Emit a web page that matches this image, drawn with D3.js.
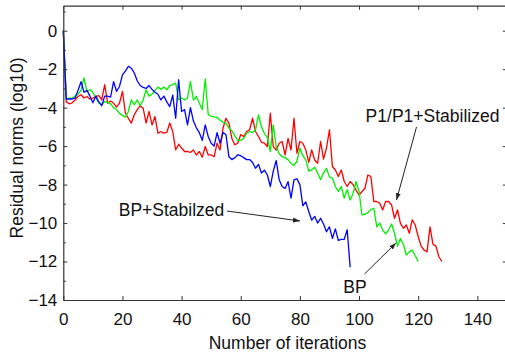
<!DOCTYPE html>
<html><head><meta charset="utf-8">
<script src="https://cdn.jsdelivr.net/npm/d3@7"></script>
<style>
html,body{margin:0;padding:0;background:#fff;}
svg{display:block;font-family:Arial,"Liberation Sans",sans-serif;}
</style></head>
<body>
<svg id="c" width="505" height="358"></svg>
<script>
const xTicks = [0,20,40,60,80,100,120,140];
const yTicks = [0,-2,-4,-6,-8,-10,-12,-14];
const yMinorTicks = [1,-1,-3,-5,-7,-9,-11,-13];

const bpStab = [0,-3.55,-3.55,-3.55,-3.5,-3.1,-2.65,-3.2,-3.1,-3.4,-3.75,-3.4,-3.7,-3.9,-3.4,-3.4,-3.45,-2.65,-3.15,-2.9,
-2.3,-2.1,-1.85,-1.95,-2.2,-2.6,-2.85,-2.95,-3.0,-2.85,-3.05,-3.2,-3.3,-3.6,-3.4,-3.7,-3.95,-3.35,-4.55,-2.55,
-4.2,-4.1,-4.9,-4.0,-4.7,-5.05,-5.3,-5.7,-4.9,-5.5,-5.85,-6.0,-5.3,-5.85,-5.3,-5.4,-6.55,-6.7,-6.6,-6.45,
-6.5,-6.6,-6.7,-6.7,-6.85,-7.15,-6.95,-7.4,-7.25,-7.5,-8.1,-7.3,-6.75,-7.75,-8.1,-8.2,-7.85,-8.7,-7.75,-7.7,
-8.0,-9.1,-8.9,-9.4,-9.85,-9.65,-10.0,-9.75,-10.05,-10.45,-10.2,-10.8,-10.3,-10.9,-10.85,-10.85,-10.35,-12.3];

const bp = [0,-3.55,-3.5,-3.5,-3.4,-3.3,-3.1,-2.46,-3.15,-3.07,-3.2,-3.5,-3.75,-3.85,-3.68,-3.72,-3.8,-4.0,-4.1,-4.3,
-4.4,-4.5,-4.2,-3.6,-3.85,-3.6,-3.9,-3.6,-3.07,-3.4,-3.3,-3.1,-2.93,-3.05,-2.93,-3.07,-2.86,-2.8,-2.72,-3.6,
-3.5,-3.6,-3.5,-2.64,-3.6,-3.42,-3.77,-4.1,-2.5,-4.35,-4.45,-4.48,-4.5,-4.65,-4.75,-4.8,-5.05,-5.2,-5.45,-5.7,
-5.7,-5.6,-5.33,-5.24,-5.3,-5.15,-4.37,-4.98,-5.35,-5.55,-6.28,-4.9,-6.02,-6.4,-6.55,-6.6,-6.7,-6.9,-7.0,-6.8,
-6.1,-6.5,-6.7,-7.3,-7.24,-7.1,-7.4,-7.75,-7.4,-7.15,-7.6,-7.67,-8.1,-8.36,-8.1,-8.7,-8.27,-8.8,-8.45,-7.84,
-8.36,-9.58,-9.55,-9.45,-9.3,-9.23,-10.2,-10.0,-10.36,-10.56,-10.36,-10.05,-10.53,-11.2,-10.8,-11.1,-11.66,-11.5,-11.4,-11.7,
-12.0];

const p1p1 = [0,-3.7,-3.8,-3.75,-3.6,-3.42,-3.33,-3.5,-3.42,-3.55,-3.5,-3.42,-3.38,-3.6,-2.8,-3.77,-3.65,-3.77,-3.97,-3.77,
-3.15,-4.29,-4.55,-4.8,-4.37,-4.1,-3.9,-4.03,-4.8,-4.2,-4.9,-4.46,-5.33,-5.24,-5.33,-5.29,-4.8,-5.24,-6.2,-5.9,
-6.1,-6.28,-6.28,-6.33,-6.2,-6.46,-6.28,-6.57,-6.02,-6.46,-6.46,-6.55,-5.85,-6.2,-5.07,-4.55,-4.8,-5.6,-5.93,-5.85,
-5.4,-5.5,-5.24,-5.15,-4.55,-5.24,-5.5,-5.8,-5.85,-6.02,-4.29,-6.02,-6.2,-5.85,-5.76,-6.46,-5.6,-6.2,-4.55,-6.37,
-5.76,-5.85,-6.2,-6.85,-6.2,-6.72,-6.89,-5.76,-6.68,-6.1,-5.15,-7.06,-7.24,-7.58,-7.24,-7.84,-8.1,-7.84,-8.0,-8.3,
-8.54,-8.36,-8.19,-7.5,-7.58,-8.88,-8.88,-8.97,-9.32,-8.88,-8.88,-9.06,-9.75,-9.32,-10.02,-10.27,-10.1,-10.53,-9.84,-10.1,
-10.7,-11.2,-11.4,-11.5,-10.2,-11.1,-11.2,-11.75,-12.0];

const seriesNames = ["P1/P1+Stabilized","BP","BP+Stabilzed"];
const seriesColors = ["#ff0000","#00f000","#0000ff"];
const seriesData = [p1p1, bp, bpStab];

const svg = d3.select("#c");
const L = 63.3, T = 5.7, R = 506.9, B = 300;
const x = d3.scaleLinear().domain([0,150]).range([L,R]);
const y = d3.scaleLinear().domain([-14,1.3]).range([B,T]);
const axisColor = "#333";
const fontFam = "Arial, 'Liberation Sans', sans-serif";

// lines
const line = d3.line().x((d,i)=>x(i)).y(d=>y(d));
const g = svg.append("g");
seriesData.forEach((s,k)=>{
  g.append("path").datum(s).attr("d",line).attr("fill","none")
   .attr("stroke",seriesColors[k]).attr("stroke-width",1.3).attr("stroke-linejoin","round");
});

// axes
function styleAxis(sel){
  sel.select(".domain").attr("stroke",axisColor).attr("stroke-width",1.2);
  sel.selectAll(".tick line").attr("stroke",axisColor);
  sel.selectAll("text").attr("fill","#111").style("font-size","17px").style("font-family",fontFam);
}
const xb = svg.append("g").attr("transform",`translate(0,${B})`)
  .call(d3.axisBottom(x).tickValues(xTicks).tickSizeInner(-4).tickSizeOuter(0).tickPadding(13));
styleAxis(xb);
const xt = svg.append("g").attr("transform",`translate(0,${T})`)
  .call(d3.axisTop(x).tickValues(xTicks).tickSizeInner(-4).tickSizeOuter(0).tickFormat(""));
styleAxis(xt);
const yl = svg.append("g").attr("transform",`translate(${L},0)`)
  .call(d3.axisLeft(y).tickValues(yTicks).tickSizeInner(-4).tickSizeOuter(0).tickPadding(6));
styleAxis(yl);
const ylm = svg.append("g").attr("transform",`translate(${L},0)`)
  .call(d3.axisLeft(y).tickValues(yMinorTicks).tickSizeInner(-2.5).tickSizeOuter(0).tickFormat(""));
styleAxis(ylm); ylm.select(".domain").remove();
const yr = svg.append("g").attr("transform",`translate(${R},0)`)
  .call(d3.axisRight(y).tickValues(yTicks).tickSizeInner(-4).tickSizeOuter(0).tickFormat(""));
styleAxis(yr);

// axis titles
svg.append("text").attr("x",287.5).attr("y",349).attr("text-anchor","middle")
  .style("font-size","17.5px").attr("fill","#111").text("Number of iterations");
svg.append("text").attr("transform","translate(23,148) rotate(-90)").attr("text-anchor","middle")
  .style("font-size","17.5px").attr("fill","#111").text("Residual norms (log10)");

// annotations
svg.append("defs").append("marker").attr("id","ah").attr("viewBox","0 0 10 10")
  .attr("refX",10).attr("refY",5).attr("markerWidth",7).attr("markerHeight",7)
  .attr("orient","auto-start-reverse").append("path").attr("d","M0,1.5 L10,5 L0,8.5 z").attr("fill","#222");
function arrow(x1,y1,x2,y2){
  svg.append("line").attr("x1",x1).attr("y1",y1).attr("x2",x2).attr("y2",y2)
    .attr("stroke","#222").attr("stroke-width",1).attr("marker-end","url(#ah)");
}
svg.append("text").attr("x",432.5).attr("y",122).attr("text-anchor","middle")
  .style("font-size","17.5px").attr("fill","#111").text(seriesNames[0]);
arrow(416.5,127,396.5,200);
svg.append("text").attr("x",355).attr("y",293).attr("text-anchor","middle")
  .style("font-size","17.5px").attr("fill","#111").text(seriesNames[1]);
arrow(364.5,274,396,243);
svg.append("text").attr("x",171.5).attr("y",215.5).attr("text-anchor","middle")
  .style("font-size","17.5px").attr("fill","#111").text(seriesNames[2]);
arrow(227,211,300,221);
</script>
</body></html>
